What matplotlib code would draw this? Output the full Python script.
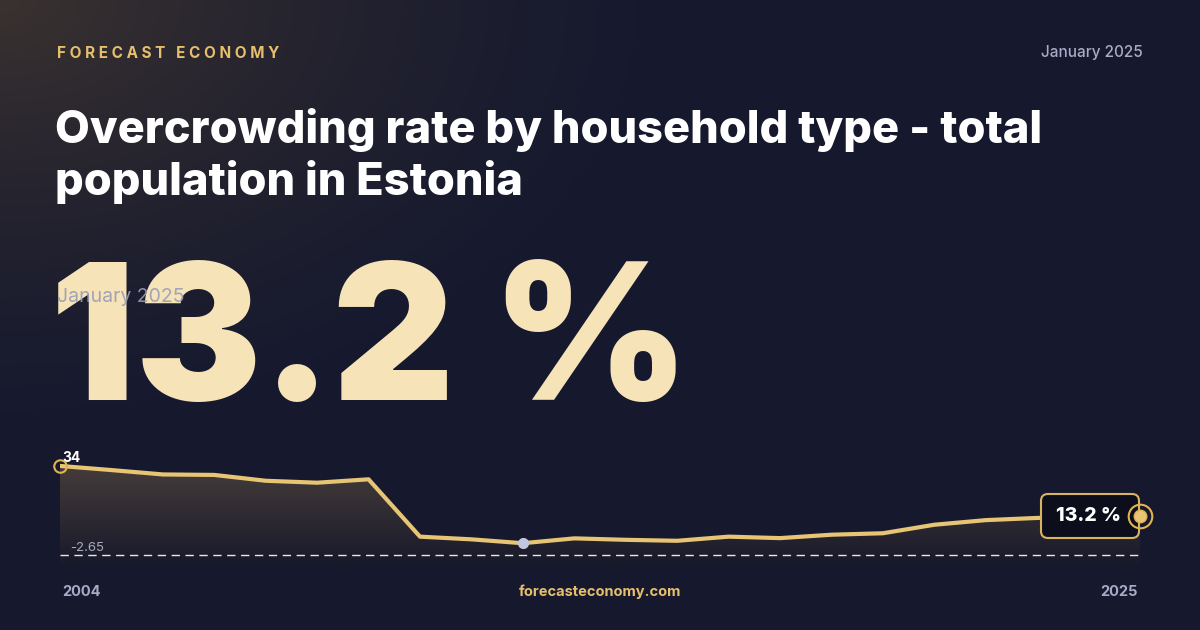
import numpy as np
import matplotlib
matplotlib.use("Agg")
import matplotlib.pyplot as plt
from matplotlib.patches import FancyBboxPatch, Polygon

years = list(range(2004, 2026))
values = [34.0, 32.3, 30.5, 30.3, 27.9, 27.1, 28.5, 4.9, 3.8, 2.2, 4.2, 3.6,
          3.2, 4.9, 4.3, 5.7, 6.3, 9.8, 11.7, 12.6, 13.0, 13.2]
baseline = -2.65
headline = "13.2 %"
title = "Overcrowding rate by household type - total\npopulation in Estonia"

W, H = 1200, 630
fig = plt.figure(figsize=(12, 6.3), dpi=100)
bg = fig.add_axes([0, 0, 1, 1])
bg.set_xlim(0, W); bg.set_ylim(H, 0); bg.axis("off")
yy, xx = np.mgrid[0:H:2, 0:W:2]
d = np.sqrt((xx / 700.0) ** 2 + (yy / 450.0) ** 2)
g = np.clip(1 - d, 0, 1) ** 1.5
base = np.array([0x16, 0x19, 0x2e]) / 255
warm = np.array([0x3a, 0x32, 0x30]) / 255
img = base[None, None, :] * (1 - g[..., None]) + warm[None, None, :] * g[..., None]
bg.imshow(img, extent=[0, W, H, 0], aspect="auto", zorder=0)

font = "Inter"
bg.text(57, 53, "F O R E C A S T   E C O N O M Y", color="#e6bf6e", fontsize=11,
        fontweight="bold", family=font, va="center", ha="left")
bg.text(1143, 53, "January 2025", color="#a9abc6", fontsize=11, family=font,
        fontweight="medium", va="center", ha="right")
bg.text(55, 156, title, color="white", fontsize=32.5, fontweight="heavy", family=font,
        va="center", ha="left", linespacing=1.25)
bg.text(50, 350, headline, color="#f6e4b8", fontsize=136, fontweight="black",
        family=font, va="center", ha="left")
bg.text(57, 297, "January 2025", color="#9a9cb8", fontsize=14, family=font,
        va="center", ha="left", alpha=0.9)
bg.text(62, 592, str(years[0]), color="#a9abc6", fontsize=10.5, fontweight="bold",
        family=font, va="center", ha="left")
bg.text(1138, 592, str(years[-1]), color="#a9abc6", fontsize=10.5, fontweight="bold",
        family=font, va="center", ha="right")
bg.text(600, 592, "forecasteconomy.com", color="#e6bf6e", fontsize=10.5,
        fontweight="bold", family=font, va="center", ha="center")

ax = fig.add_axes([0.05, 65 / H, 0.9, 110 / H])
ax.set_xlim(years[0], years[-1])
ax.set_ylim(-6.76, 38.5)
ax.axis("off")
ax.axhspan(-6.76, baseline, color="#12142a", zorder=0)
pts = [(years[0], -6.76)] + list(zip(years, values)) + [(years[-1], -6.76)]
poly = Polygon(pts, closed=True, facecolor="none", edgecolor="none")
ax.add_patch(poly)
grad = np.linspace(0, 1, 100)[:, None]
c_top = np.array([0x4a, 0x40, 0x3c]) / 255
c_bot = np.array([0x18, 0x19, 0x2a]) / 255
gimg = c_top[None, None, :] * (1 - grad[..., None]) + c_bot[None, None, :] * grad[..., None]
gimg = np.repeat(gimg, 2, axis=1)
im = ax.imshow(gimg, extent=[years[0], years[-1], -6.76, 38.5], aspect="auto", zorder=1)
im.set_clip_path(poly)
ax.plot(years, values, color="#e8c574", lw=3, solid_joinstyle="round", zorder=3)
ax.axhline(baseline, color="white", lw=1, ls=(0, (6, 4)), zorder=2, alpha=0.9)
imin = int(np.argmin(values))
ax.plot(years[imin], values[imin], "o", color="#c2c6de", ms=7, zorder=4)
ax.plot(years[0], values[0], "o", mfc="none", mec="#e0b44f", ms=9, mew=1.5, zorder=4,
        clip_on=False)
ax.text(years[0] + 0.05, values[0] + 0.3, f"{values[0]:g}", color="white", fontsize=10,
        fontweight="bold", family=font, va="bottom", ha="left", zorder=6)
ax.text(years[0] + 0.2, baseline + 0.5, f"{baseline:g}", color="#a9abc6", fontsize=9.5,
        family=font, va="bottom", ha="left", zorder=6)

ov = fig.add_axes([0, 0, 1, 1], facecolor="none")
ov.set_xlim(0, W); ov.set_ylim(H, 0); ov.axis("off")
box = FancyBboxPatch((1041, 494), 98, 44, boxstyle="round,pad=0,rounding_size=7",
                     facecolor="#0d0e1c", edgecolor="#d9b45e", lw=1.5, zorder=7)
ov.add_patch(box)
ov.text(1088, 516, headline, color="white", fontsize=14, fontweight="heavy",
        family=font, va="center", ha="center", zorder=8)
# end marker placed at the last data point, converted to overlay coords
px = ax.transData.transform((years[-1], values[-1]))
ex, ey = ov.transData.inverted().transform(px)
ov.plot([ex], [ey], "o", mfc="#e8c574", mec="#e0b44f", ms=9, zorder=9)
ov.plot([ex], [ey], "o", mfc="none", mec="#e0b44f", ms=17, mew=1.5, zorder=9)

fig.savefig("out.png", dpi=100)
